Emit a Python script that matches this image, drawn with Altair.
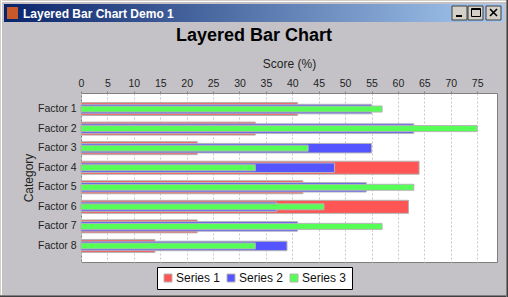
import altair as alt
import pandas as pd

# ---- data ----
categories = ["Factor 1", "Factor 2", "Factor 3", "Factor 4",
              "Factor 5", "Factor 6", "Factor 7", "Factor 8"]
series_names = ["Series 1", "Series 2", "Series 3"]
series1 = [41, 33, 22, 64, 42, 62, 22, 14]
series2 = [55, 63, 55, 48, 54, 37, 41, 39]
series3 = [57, 75, 43, 33, 63, 46, 57, 33]
x_ticks = [0, 5, 10, 15, 20, 25, 30, 35, 40, 45, 50, 55, 60, 65, 70, 75]
series_colors = ["#FF5555", "#5555FF", "#55FF55"]
bar_sizes = [13, 9.5, 6]

rows = []
for name, vals in zip(series_names, [series1, series2, series3]):
    for c, v in zip(categories, vals):
        rows.append({"category": c, "series": name, "value": v})
df = pd.DataFrame(rows)

# ---- layout ----
W, H = 416, 169          # plot area
PL, PT = 81, 93          # plot origin in page
FULL_W, FULL_H = 508, 297
BG = "#C4C2C7"
FONT = "Liberation Sans"

one = pd.DataFrame({"a": [0]})


def px(v):
    return alt.value(v - PL)


def py(v):
    return alt.value(v - PT)


x_enc = alt.X("value:Q", stack=None,
              scale=alt.Scale(domain=[0, 78.75], nice=False, zero=True),
              axis=alt.Axis(orient="top", values=x_ticks, title="Score (%)",
                            grid=True, gridDash=[2, 2], gridColor="#C8C8C8",
                            tickColor="#808080", tickSize=2, domain=False,
                            labelFont=FONT, labelFontSize=10.5, labelColor="#222222",
                            labelPadding=3, labelFlush=False,
                            titleFont=FONT, titleFontSize=12, titleFontWeight="normal",
                            titleColor="#222222",
                            titleX=W / 2, titleY=63 - PT, titleBaseline="middle",
                            titleAlign="center"))
y_enc = alt.Y("category:N", sort=categories,
              scale=alt.Scale(paddingInner=0.222, paddingOuter=0.432),
              axis=alt.Axis(title="Category", ticks=False, domain=False,
                            labelFont=FONT, labelFontSize=10.5, labelColor="#222222",
                            labelPadding=5,
                            titleFont=FONT, titleFontSize=12, titleFontWeight="normal",
                            titleColor="#222222",
                            titleX=28 - PL, titleY=H / 2, titleBaseline="middle",
                            titleAlign="center", titleAngle=-90))
c_enc = alt.Color("series:N",
                  scale=alt.Scale(domain=series_names, range=series_colors),
                  legend=alt.Legend(orient="none", legendX=157 - PL, legendY=267 - PT,
                                    direction="horizontal", title=None,
                                    fillColor="white", strokeColor="black",
                                    padding=5, symbolType="square", symbolSize=64,
                                    symbolStrokeColor="#B4B4B4", symbolStrokeWidth=1,
                                    symbolOpacity=1,
                                    labelFont=FONT, labelFontSize=12,
                                    labelColor="#111111",
                                    labelOffset=2, columnPadding=4))

bar_layers = []
for name, sz in zip(series_names, bar_sizes):
    bar_layers.append(
        alt.Chart(df).transform_filter(alt.datum.series == name)
        .mark_bar(stroke="#B4B4B4", strokeWidth=1, size=sz)
        .encode(x=x_enc, y=y_enc, color=c_enc)
    )

title_txt = alt.Chart(one).mark_text(
    text="Layered Bar Chart", font=FONT, fontSize=18, fontWeight="bold",
    align="center", baseline="middle", color="black"
).encode(x=px(254), y=py(36))

# window chrome
titlebar = alt.Chart(one).mark_rect(
    color=alt.Gradient(gradient="linear", x1=0, x2=1, y1=0, y2=0,
                       stops=[alt.GradientStop(color="#0A246A", offset=0),
                              alt.GradientStop(color="#A6CAF0", offset=1)])
).encode(x=px(4), x2=px(504), y=py(4), y2=py(22))

titlebar_txt = alt.Chart(one).mark_text(
    text="Layered Bar Chart Demo 1", font=FONT, fontSize=12, fontWeight="bold",
    align="left", baseline="middle", color="white"
).encode(x=px(23), y=py(13.5))

icon = alt.Chart(one).mark_rect(color="#C85A2A").encode(
    x=px(7), x2=px(18), y=py(7), y2=py(19))

btn_data = pd.DataFrame({"x0": [452, 468, 486], "x1": [467, 483, 501]})
buttons = alt.Chart(btn_data).mark_rect(
    fill="#D4D0C8", stroke="#404040", strokeWidth=1
).encode(
    x=alt.X("x0:Q", scale=None), x2="x1:Q",
    y=py(6), y2=py(20)
).transform_calculate(x0=f"datum.x0 - {PL}", x1=f"datum.x1 - {PL}")

# glyphs on buttons
g_min = alt.Chart(one).mark_rule(color="black", strokeWidth=2).encode(
    x=px(456), x2=px(462), y=py(16), y2=py(16))
g_max = alt.Chart(one).mark_rect(fill=None, stroke="black", strokeWidth=1).encode(
    x=px(471.5), x2=px(480.5), y=py(8.5), y2=py(16.5))
g_max2 = alt.Chart(one).mark_rule(color="black", strokeWidth=1).encode(
    x=px(471.5), x2=px(480.5), y=py(9.5), y2=py(9.5))
g_x1 = alt.Chart(one).mark_rule(color="black", strokeWidth=1.6).encode(
    x=px(490), x2=px(497), y=py(9), y2=py(16))
g_x2 = alt.Chart(one).mark_rule(color="black", strokeWidth=1.6).encode(
    x=px(497), x2=px(490), y=py(9), y2=py(16))

# frame edges
edges = []
for (x0, y0, x1, y1, col) in [
    (0, 0.5, 508, 0.5, "#D4D0C8"), (0, 1.5, 508, 1.5, "#FFFFFF"),
    (0.5, 0, 0.5, 297, "#D4D0C8"), (1.5, 0, 1.5, 297, "#FFFFFF"),
    (0, 295.5, 508, 295.5, "#808080"), (0, 296.5, 508, 296.5, "#404040"),
    (506.5, 0, 506.5, 297, "#808080"), (507.5, 0, 507.5, 297, "#404040"),
]:
    edges.append(alt.Chart(one).mark_rule(color=col, strokeWidth=1).encode(
        x=px(x0), x2=px(x1), y=py(y0), y2=py(y1)))

chart = alt.layer(
    *bar_layers, title_txt, titlebar, titlebar_txt, icon, buttons,
    g_min, g_max, g_max2, g_x1, g_x2, *edges
).properties(
    width=W, height=H,
    padding={"left": PL, "top": PT, "right": FULL_W - PL - W, "bottom": FULL_H - PT - H},
    autosize=alt.AutoSizeParams(type="none"),
    background=BG,
).configure_view(
    fill="white", stroke="#808080", strokeWidth=1
)

chart.save("out.html", embed_options={"renderer": "svg", "actions": False})
